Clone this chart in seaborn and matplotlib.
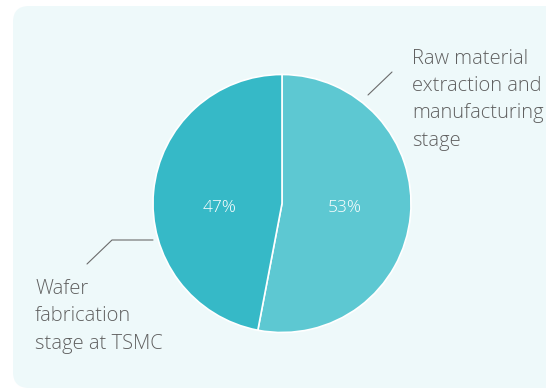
import matplotlib
matplotlib.use("Agg")
import matplotlib.pyplot as plt
from matplotlib.patches import FancyBboxPatch
import seaborn as sns

# data
stages = ["Raw material\nextraction and\nmanufacturing\nstage", "Wafer\nfabrication\nstage at TSMC"]
shares = [53, 47]
colors = ["#5dc8d2", "#36b9c7"]

sns.set_theme(style="white")
plt.rcParams['font.family'] = ['Open Sans', 'DejaVu Sans']

W, H = 546, 390
fig = plt.figure(figsize=(W / 100, H / 100), dpi=100)
fig.patch.set_facecolor("white")
ax = fig.add_axes([0, 0, 1, 1])

# card background
card = FancyBboxPatch((13, 2), 560, 382, boxstyle="round,pad=0,rounding_size=16",
                      facecolor="#eef9fa", edgecolor="none", zorder=0)
ax.add_patch(card)

cx, cy, r = 282, H - 203.5, 129
wedges, texts, autotexts = ax.pie(
    shares, colors=colors, startangle=90, counterclock=False,
    center=(cx, cy), radius=r, autopct=lambda p: f"{round(p)}%", pctdistance=0.49,
    wedgeprops=dict(edgecolor="white", linewidth=1.2),
    textprops=dict(color="white", fontsize=12.5, fontweight="light"), frame=True)
ax.set_xlim(0, W)
ax.set_ylim(0, H)
ax.set_aspect("equal")
ax.axis("off")
for w in wedges:
    w.set_zorder(2)
# both percentages sit on the same row in the original
for t in autotexts:
    t.set_y(H - 208)

# leader lines
line_kw = dict(color="#6b6b6b", linewidth=0.8, zorder=3)
ax.plot([368, 392], [H - 95, H - 72], **line_kw)
ax.plot([87, 112, 153], [H - 264, H - 240, H - 240], **line_kw)

txt_kw = dict(color="#606060", fontsize=14.5, fontweight="light", linespacing=1.49,
              va="top", ha="left", zorder=3)
ax.text(412, H - 48.5, stages[0], **txt_kw)
ax.text(35, H - 279, stages[1], **txt_kw)

fig.savefig("out.png", dpi=100, facecolor="white")
